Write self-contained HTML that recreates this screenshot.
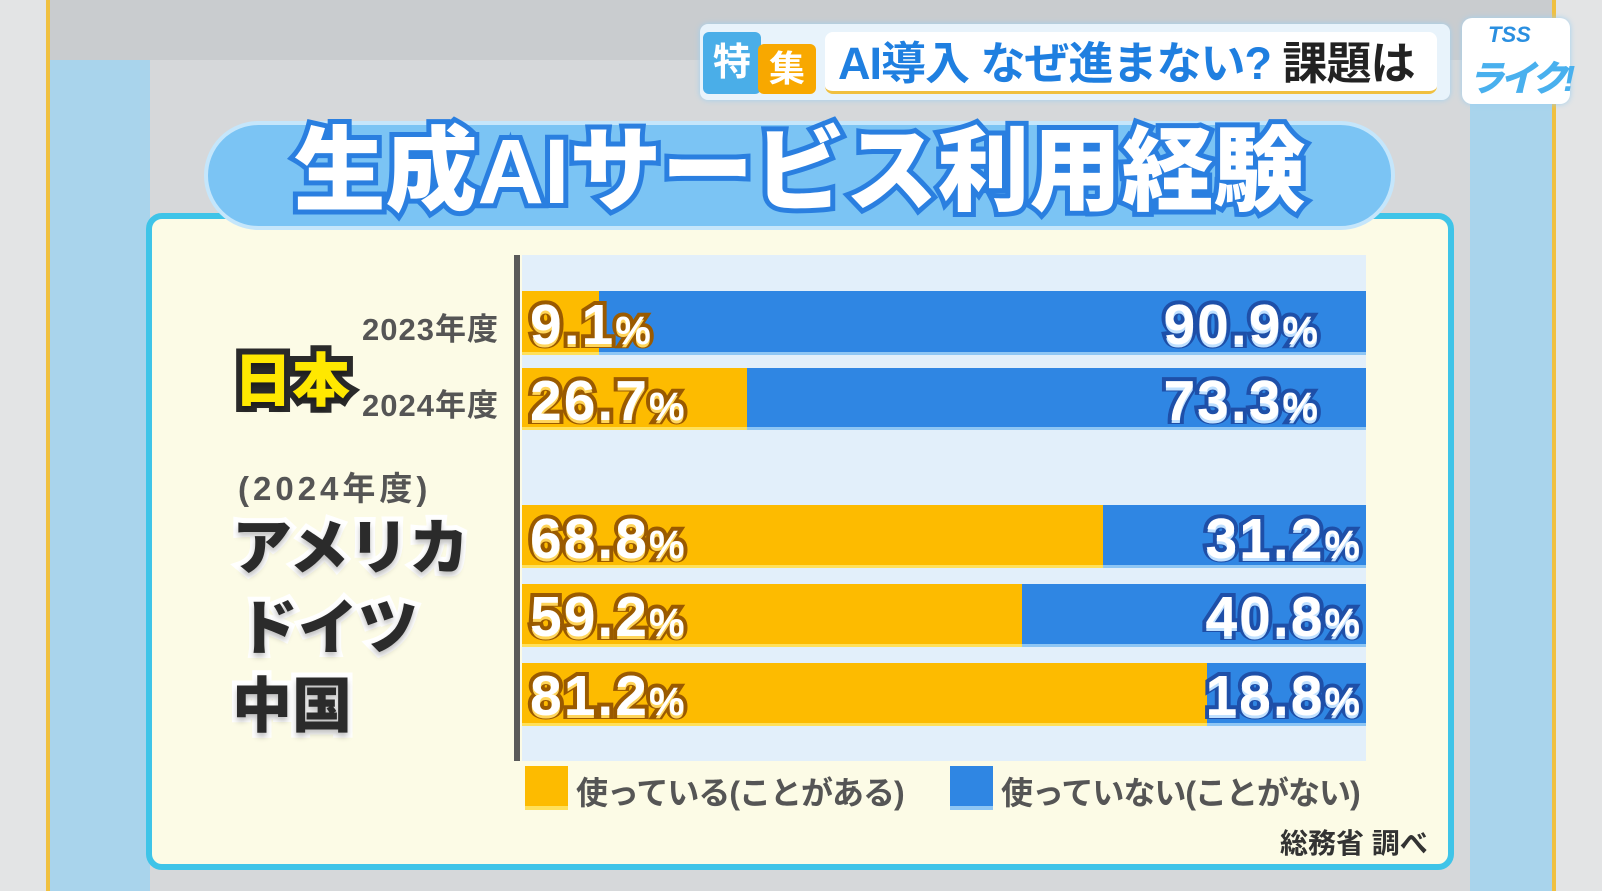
<!DOCTYPE html>
<html><head><meta charset="utf-8"><style>
*{margin:0;padding:0;box-sizing:border-box}
body{width:1602px;height:891px;overflow:hidden;position:relative;background:#d6d8da;font-family:"Liberation Sans","Noto Sans CJK JP",sans-serif;font-weight:bold}
.a{position:absolute}
.pct{position:absolute;color:#fff;font-size:57px;font-weight:900;line-height:1;paint-order:stroke fill;-webkit-text-stroke:8px #9a5a00;text-shadow:0 3px 0 #ffd55a;letter-spacing:2px;white-space:nowrap}
.pct small{font-size:40px}
.pb{-webkit-text-stroke:8px #1e4fa8;text-shadow:0 3px 0 #bfe0ff;text-align:right}
.bar{position:absolute;left:522px;width:844px;background:#2f86e3;border-bottom:3px solid #8ec6f4}
.bar .o{position:absolute;left:0;top:0;bottom:-3px;background:#fdbb00;border-bottom:3px solid #ffe05a}
.cty{position:absolute;font-size:60px;color:#2b2b2b;font-weight:900;paint-order:stroke fill;-webkit-text-stroke:10px #fff;text-shadow:0 4px 6px rgba(0,0,0,.25)}
.yr{position:absolute;font-size:31px;color:#555;font-weight:bold;white-space:nowrap;letter-spacing:1px}
</style></head><body>
<div class="a" style="left:0;top:0;width:1602px;height:60px;background:#c9cccf"></div>
<div class="a" style="left:40px;top:60px;width:110px;height:831px;background:#a9d4ec"></div>
<div class="a" style="left:1470px;top:60px;width:110px;height:831px;background:#a9d4ec"></div>
<div class="a" style="left:0;top:0;width:50px;height:891px;background:#e3e4e5;border-right:4px solid #f0c040"></div>
<div class="a" style="left:1552px;top:0;width:50px;height:891px;background:#e3e4e5;border-left:4px solid #f0c040"></div>
<div class="a" style="left:700px;top:24px;width:750px;height:76px;background:#e8f3fb;border-radius:8px;box-shadow:0 0 6px #9fd0f0"></div>
<div class="a" style="left:703px;top:32px;width:58px;height:62px;background:#4aaee8;border-radius:6px;color:#fff;font-size:38px;text-align:center;line-height:62px">特</div>
<div class="a" style="left:758px;top:44px;width:58px;height:50px;background:#f8a800;border-radius:6px;color:#fff;font-size:36px;text-align:center;line-height:50px">集</div>
<div class="a" style="left:825px;top:32px;width:612px;height:62px;background:#fff;border-radius:8px;border-bottom:3px solid #f0c040"></div>
<div class="a" style="left:838px;top:36px;font-size:45px;color:#1f7fe0;white-space:nowrap;line-height:56px;letter-spacing:-1px">AI導入 なぜ進まない? <span style="color:#222">課題は</span></div>
<div class="a" style="left:1462px;top:18px;width:108px;height:86px;background:#fff;border-radius:10px;box-shadow:0 0 6px #9fd0f0"></div>
<div class="a" style="left:1488px;top:22px;font-size:22px;color:#2a8fe0;font-style:italic">TSS</div>
<div class="a" style="left:1468px;top:50px;font-size:36px;color:#49b0ee;font-style:italic;font-weight:900;white-space:nowrap;letter-spacing:-4px">ライク!</div>
<div class="a" style="left:146px;top:213px;width:1308px;height:657px;background:#fcfbe6;border:6px solid #3fc4e8;border-radius:16px"></div>
<div class="a" style="left:204px;top:121px;width:1191px;height:109px;background:#7bc4f4;border-radius:55px;border:4px solid #c5e6fb"></div>
<div class="a" style="left:204px;top:122px;width:1191px;text-align:center;font-size:92px;font-weight:900;color:#fff;line-height:100px;paint-order:stroke fill;-webkit-text-stroke:10px #2a7fe0;white-space:nowrap">生成AIサービス利用経験</div>
<div class="a" style="left:522px;top:255px;width:844px;height:506px;background:#e2effa"></div>
<div class="a" style="left:514px;top:255px;width:6px;height:506px;background:#5a5a5a"></div>
<div class="bar" style="top:291px;height:64px"><div class="o" style="width:77px"></div></div>
<div class="bar" style="top:368px;height:62px"><div class="o" style="width:225px"></div></div>
<div class="bar" style="top:505px;height:63px"><div class="o" style="width:581px"></div></div>
<div class="bar" style="top:584px;height:63px"><div class="o" style="width:500px"></div></div>
<div class="bar" style="top:663px;height:63px"><div class="o" style="width:685px"></div></div>
<div class="pct" style="left:530px;top:297px">9.1<small>%</small></div>
<div class="pct pb" style="right:282px;top:297px">90.9<small>%</small></div>
<div class="pct" style="left:530px;top:373px">26.7<small>%</small></div>
<div class="pct pb" style="right:282px;top:373px">73.3<small>%</small></div>
<div class="pct" style="left:530px;top:511px">68.8<small>%</small></div>
<div class="pct pb" style="right:240px;top:511px">31.2<small>%</small></div>
<div class="pct" style="left:530px;top:589px">59.2<small>%</small></div>
<div class="pct pb" style="right:240px;top:589px">40.8<small>%</small></div>
<div class="pct" style="left:530px;top:668px">81.2<small>%</small></div>
<div class="pct pb" style="right:240px;top:668px">18.8<small>%</small></div>
<div class="yr" style="left:362px;top:304px">2023年度</div>
<div class="yr" style="left:362px;top:380px">2024年度</div>
<div class="a" style="left:234px;top:334px;font-size:58px;font-weight:900;color:#ffe800;paint-order:stroke fill;-webkit-text-stroke:12px #2a2a2a;text-shadow:0 4px 4px rgba(0,0,0,.3)">日本</div>
<div class="yr" style="left:238px;top:462px;font-size:33px;letter-spacing:4px">(2024年度)</div>
<div class="cty" style="left:232px;top:500px">アメリカ</div>
<div class="cty" style="left:238px;top:580px">ドイツ</div>
<div class="cty" style="left:232px;top:658px">中国</div>
<div class="a" style="left:525px;top:766px;width:43px;height:44px;background:#fdbb00;border-bottom:4px solid #ffe05a"></div>
<div class="a" style="left:576px;top:768px;font-size:32px;color:#555;letter-spacing:-1px;white-space:nowrap">使っている(ことがある)</div>
<div class="a" style="left:950px;top:766px;width:43px;height:44px;background:#2f86e3;border-bottom:4px solid #8ec6f4"></div>
<div class="a" style="left:1001px;top:768px;font-size:32px;color:#555;letter-spacing:-1px;white-space:nowrap">使っていない(ことがない)</div>
<div class="a" style="left:1280px;top:822px;font-size:28px;color:#333;white-space:nowrap">総務省 調べ</div>
</body></html>
